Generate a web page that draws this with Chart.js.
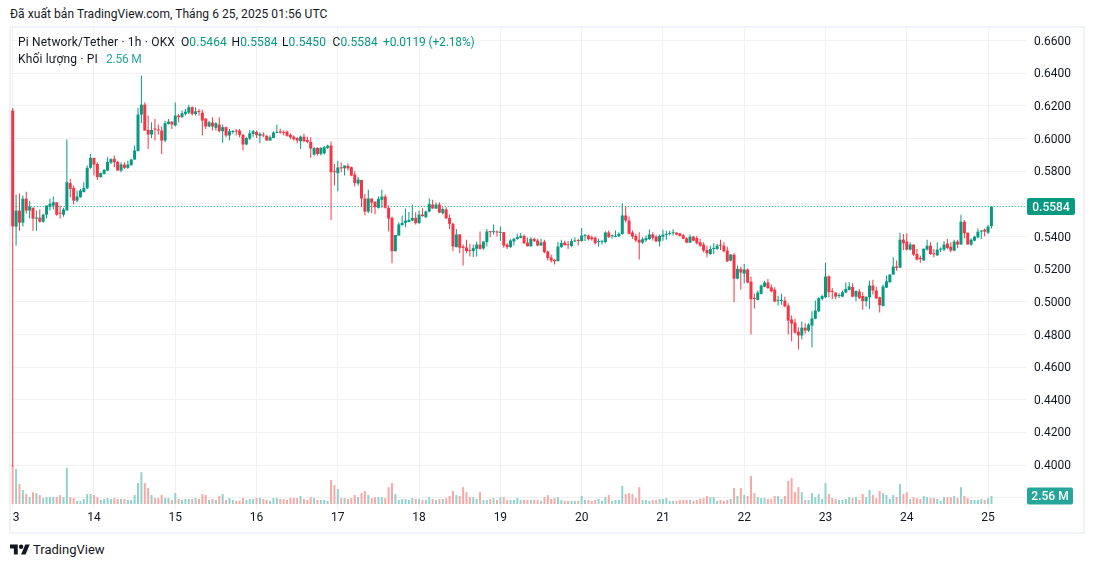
<!DOCTYPE html>
<html lang="vi"><head><meta charset="utf-8">
<script src="https://cdn.jsdelivr.net/npm/chart.js@4/dist/chart.umd.min.js"></script>
<style>
html,body{margin:0;padding:0;background:#fff;width:1094px;height:567px;overflow:hidden;font-family:Roboto,Arial,sans-serif;color:#131722}
#frame{position:absolute;left:9px;top:26px;width:1072px;height:504px;border:2px solid #f0f3fa}
#wrap{position:absolute;left:11px;top:27px;width:1072px;height:504px}
#pub{position:absolute;left:10px;top:7px;font-size:12px;line-height:15px;white-space:nowrap;letter-spacing:.06px}
.leg{position:absolute;left:18px;font-size:12px;line-height:16px;white-space:pre;z-index:3}
.leg span{display:inline-block}
.g{color:#089981}.v{color:#26a69a;letter-spacing:-.2px}
.p{letter-spacing:.18px}
.q{width:50.5px;letter-spacing:.1px}
#logo{position:absolute;left:10px;top:543px;width:20px;height:13px}
#brand{position:absolute;left:33px;top:541px;font-size:13px;line-height:17px}
</style></head><body>
<div id="pub">Đã xuất bản TradingView.com, Tháng 6 25, 2025 01:56 UTC</div>
<div id="frame"></div>
<div id="wrap"><canvas id="c" width="1072" height="504"></canvas></div>
<div class="leg" style="top:34px"><span class="p" style="width:163px">Pi Network/Tether · 1h · OKX</span><span class="q">O<b class="g" style="font-weight:400">0.5464</b></span><span class="q">H<b class="g" style="font-weight:400">0.5584</b></span><span class="q">L<b class="g" style="font-weight:400">0.5450</b></span><span class="q">C<b class="g" style="font-weight:400">0.5584</b></span><span class="g" style="letter-spacing:-.15px">+0.0119 (+2.18%)</span></div>
<div class="leg" style="top:51px"><span class="p" style="width:88px">Khối lượng · PI</span><span class="v">2.56 M</span></div>
<svg id="logo" viewBox="0 4 36 18"><path fill="#131722" d="M14 22H7V11H0V4h14v18zM28 22h-8l7.5-18h8L28 22z"/><circle fill="#131722" cx="20" cy="8" r="4"/></svg>
<div id="brand">TradingView</div>
<script>
const dayLabels=['13','14','15','16','17','18','19','20','21','22','23','24','25'];
const yTicks=[0.38,0.40,0.42,0.44,0.46,0.48,0.50,0.52,0.54,0.56,0.58,0.60,0.62,0.64,0.66];
const lastPrice=0.5584, lastVolume=2.56;
const opens=[
.6172,.5461,.5559,.5485,.5632,.5559,.5577,.5510,.5516,.5491,
.5534,.5583,.5590,.5610,.5545,.5534,.5560,.5727,.5698,.5620,
.5641,.5672,.5696,.5821,.5882,.5845,.5764,.5784,.5804,.5853,
.5876,.5857,.5804,.5841,.5821,.5837,.5872,.5923,.6147,.6208,
.6053,.6025,.6060,.6054,.6049,.5988,.6090,.6104,.6080,.6141,
.6131,.6151,.6159,.6192,.6151,.6167,.6159,.6123,.6074,.6098,
.6066,.6086,.6045,.6070,.6019,.6040,.6049,.6049,.6023,.5964,
.6000,.6029,.6041,.6017,.6021,.6017,.5988,.6004,.6035,.6045,
.6041,.6043,.6023,.6012,.6004,.5984,.6012,.5992,.5980,.5902,
.5943,.5906,.5910,.5943,.5957,.5798,.5788,.5823,.5818,.5833,
.5825,.5780,.5725,.5747,.5633,.5553,.5633,.5614,.5576,.5625,
.5645,.5576,.5514,.5310,.5406,.5470,.5484,.5490,.5498,.5514,
.5482,.5535,.5519,.5553,.5596,.5572,.5596,.5543,.5566,.5514,
.5478,.5335,.5413,.5339,.5333,.5315,.5311,.5325,.5351,.5327,
.5366,.5433,.5427,.5431,.5423,.5427,.5351,.5335,.5370,.5384,
.5392,.5404,.5363,.5340,.5386,.5376,.5345,.5368,.5308,.5272,
.5259,.5249,.5335,.5363,.5353,.5343,.5370,.5378,.5372,.5404,
.5406,.5396,.5392,.5366,.5366,.5366,.5425,.5402,.5398,.5402,
.5415,.5529,.5498,.5425,.5404,.5380,.5363,.5378,.5384,.5413,
.5400,.5370,.5399,.5410,.5416,.5420,.5424,.5420,.5408,.5389,
.5363,.5399,.5391,.5365,.5351,.5318,.5293,.5324,.5324,.5350,
.5344,.5314,.5253,.5289,.5142,.5202,.5173,.5198,.5124,.5024,
.5012,.5049,.5093,.5118,.5089,.5075,.5006,.5006,.5008,.4977,
.4892,.4873,.4818,.4794,.4842,.4824,.4855,.4896,.4942,.5018,
.5028,.5157,.5063,.5057,.5036,.5032,.5057,.5073,.5091,.5032,
.5063,.5036,.5004,.5028,.5100,.5069,.5028,.4975,.5087,.5120,
.5167,.5216,.5210,.5381,.5369,.5320,.5351,.5293,.5269,.5253,
.5320,.5344,.5297,.5285,.5320,.5320,.5357,.5338,.5314,.5369,
.5351,.5491,.5424,.5351,.5375,.5395,.5430,.5442,.5424,.5464];
const closes=[
.5462,.5559,.5485,.5632,.5559,.5583,.5510,.5513,.5491,.5534,
.5590,.5600,.5610,.5534,.5540,.5565,.5733,.5692,.5620,.5645,
.5682,.5698,.5821,.5882,.5841,.5764,.5788,.5808,.5857,.5874,
.5855,.5804,.5841,.5821,.5841,.5872,.5927,.6147,.6208,.6049,
.6025,.6053,.6056,.6050,.5988,.6094,.6104,.6086,.6141,.6131,
.6155,.6165,.6192,.6151,.6167,.6163,.6110,.6074,.6100,.6074,
.6094,.6045,.6070,.6019,.6045,.6045,.6043,.6023,.5964,.6004,
.6033,.6045,.6021,.6029,.6019,.5988,.6008,.6037,.6041,.6037,
.6035,.6017,.6008,.5996,.5988,.6012,.5984,.5980,.5939,.5943,
.5906,.5943,.5947,.5957,.5794,.5794,.5823,.5818,.5835,.5818,
.5774,.5727,.5749,.5633,.5553,.5633,.5608,.5580,.5631,.5645,
.5576,.5510,.5310,.5410,.5474,.5484,.5498,.5502,.5514,.5482,
.5535,.5525,.5553,.5600,.5572,.5596,.5547,.5568,.5512,.5478,
.5339,.5413,.5331,.5331,.5311,.5311,.5329,.5351,.5325,.5370,
.5431,.5427,.5431,.5425,.5427,.5345,.5335,.5376,.5386,.5396,
.5404,.5359,.5340,.5386,.5372,.5345,.5363,.5304,.5268,.5253,
.5249,.5339,.5361,.5347,.5347,.5372,.5376,.5373,.5406,.5408,
.5384,.5384,.5359,.5372,.5372,.5425,.5396,.5408,.5404,.5417,
.5529,.5498,.5417,.5400,.5376,.5363,.5384,.5390,.5413,.5392,
.5370,.5404,.5412,.5414,.5420,.5426,.5412,.5404,.5387,.5363,
.5399,.5375,.5359,.5344,.5314,.5297,.5324,.5330,.5344,.5344,
.5310,.5248,.5289,.5142,.5202,.5179,.5198,.5118,.5016,.5018,
.5057,.5100,.5118,.5085,.5065,.5002,.5008,.5008,.4973,.4885,
.4867,.4812,.4794,.4842,.4824,.4861,.4898,.4947,.5022,.5036,
.5155,.5059,.5061,.5032,.5040,.5059,.5079,.5094,.5032,.5067,
.5024,.5004,.5032,.5100,.5069,.5022,.4979,.5094,.5126,.5167,
.5216,.5208,.5381,.5359,.5320,.5351,.5289,.5259,.5261,.5326,
.5344,.5293,.5291,.5320,.5324,.5351,.5330,.5314,.5369,.5351,
.5491,.5420,.5351,.5381,.5399,.5430,.5436,.5430,.5461,.5584];
const highs=[
.6188,.5657,.5663,.5651,.5675,.5620,.5577,.5559,.5565,.5540,
.5590,.5632,.5645,.5610,.5590,.5577,.5994,.5753,.5712,.5682,
.5692,.5733,.5835,.5906,.5882,.5855,.5792,.5814,.5886,.5880,
.5896,.5865,.5855,.5855,.5865,.5876,.5957,.6188,.6386,.6222,
.6141,.6100,.6120,.6086,.6074,.6110,.6120,.6104,.6221,.6151,
.6172,.6182,.6208,.6196,.6192,.6182,.6176,.6123,.6110,.6131,
.6100,.6131,.6086,.6074,.6059,.6053,.6059,.6059,.6029,.6008,
.6053,.6053,.6049,.6039,.6039,.6021,.6019,.6045,.6086,.6061,
.6049,.6049,.6033,.6019,.6008,.6019,.6029,.6012,.6008,.5947,
.5947,.5947,.5955,.5963,.5982,.5845,.5865,.5853,.5835,.5849,
.5829,.5800,.5767,.5747,.5661,.5686,.5633,.5614,.5645,.5686,
.5657,.5590,.5523,.5410,.5488,.5529,.5572,.5551,.5596,.5549,
.5559,.5574,.5559,.5633,.5625,.5610,.5610,.5580,.5580,.5535,
.5486,.5447,.5413,.5351,.5380,.5355,.5351,.5368,.5431,.5370,
.5447,.5433,.5474,.5437,.5461,.5427,.5359,.5384,.5392,.5417,
.5421,.5413,.5392,.5396,.5392,.5386,.5386,.5380,.5314,.5290,
.5259,.5366,.5380,.5376,.5372,.5386,.5396,.5386,.5453,.5415,
.5413,.5406,.5400,.5386,.5380,.5433,.5437,.5413,.5437,.5427,
.5602,.5584,.5523,.5437,.5417,.5427,.5396,.5406,.5443,.5427,
.5408,.5412,.5442,.5436,.5436,.5444,.5426,.5424,.5416,.5395,
.5412,.5405,.5405,.5385,.5365,.5344,.5344,.5359,.5355,.5381,
.5365,.5338,.5293,.5297,.5222,.5216,.5232,.5204,.5155,.5049,
.5069,.5106,.5130,.5140,.5106,.5089,.5038,.5049,.5032,.4991,
.4916,.4896,.4845,.4879,.4869,.4869,.4942,.5008,.5028,.5045,
.5240,.5161,.5085,.5057,.5053,.5069,.5118,.5122,.5114,.5069,
.5077,.5059,.5032,.5130,.5136,.5093,.5032,.5106,.5161,.5171,
.5273,.5253,.5424,.5416,.5420,.5365,.5351,.5324,.5283,.5326,
.5381,.5365,.5324,.5365,.5334,.5371,.5385,.5365,.5381,.5381,
.5534,.5501,.5424,.5389,.5405,.5450,.5440,.5450,.5471,.5584];
const lows=[
.3990,.5344,.5436,.5461,.5540,.5510,.5436,.5436,.5485,.5485,
.5510,.5559,.5565,.5528,.5510,.5522,.5560,.5641,.5596,.5610,
.5637,.5672,.5692,.5815,.5774,.5747,.5760,.5780,.5800,.5845,
.5825,.5804,.5794,.5815,.5815,.5835,.5870,.5923,.6096,.6049,
.5937,.6004,.5988,.6025,.5906,.5978,.6086,.6059,.6074,.6100,
.6127,.6141,.6151,.6141,.6141,.6141,.6019,.6059,.6070,.6049,
.6049,.6039,.5974,.6008,.5988,.6029,.6019,.6008,.5927,.5959,
.5992,.6012,.6004,.5972,.6008,.5988,.5988,.6004,.6033,.6029,
.6021,.6012,.5996,.5988,.5972,.5937,.5978,.5972,.5882,.5896,
.5896,.5896,.5902,.5937,.5502,.5712,.5678,.5794,.5774,.5804,
.5770,.5706,.5712,.5580,.5531,.5543,.5543,.5537,.5572,.5576,
.5572,.5431,.5237,.5310,.5406,.5468,.5457,.5488,.5494,.5474,
.5478,.5523,.5512,.5549,.5570,.5568,.5543,.5535,.5508,.5447,
.5310,.5335,.5298,.5223,.5298,.5278,.5274,.5278,.5319,.5319,
.5339,.5396,.5413,.5400,.5372,.5331,.5323,.5331,.5345,.5382,
.5390,.5355,.5340,.5339,.5366,.5341,.5345,.5298,.5253,.5241,
.5229,.5249,.5331,.5345,.5323,.5335,.5366,.5345,.5370,.5372,
.5376,.5376,.5351,.5339,.5351,.5359,.5392,.5386,.5396,.5396,
.5413,.5488,.5413,.5386,.5366,.5259,.5355,.5366,.5380,.5376,
.5366,.5339,.5375,.5381,.5406,.5406,.5408,.5400,.5383,.5359,
.5361,.5371,.5351,.5338,.5304,.5273,.5289,.5293,.5318,.5318,
.5302,.5244,.5248,.4998,.5138,.5075,.5114,.5114,.4800,.4959,
.5008,.5045,.5089,.5079,.5057,.4998,.4977,.4983,.4967,.4800,
.4759,.4804,.4708,.4769,.4804,.4816,.4720,.4894,.4936,.5008,
.5024,.5028,.5018,.5018,.5024,.5028,.5053,.5069,.5028,.5004,
.5018,.4951,.4971,.4957,.5045,.5018,.4934,.4971,.5085,.5118,
.5167,.5191,.5208,.5318,.5314,.5314,.5283,.5253,.5240,.5253,
.5314,.5289,.5273,.5281,.5306,.5310,.5324,.5304,.5310,.5330,
.5351,.5389,.5351,.5344,.5371,.5389,.5385,.5401,.5416,.5450];
const volumes=[
12.5,11.2,6.4,4.5,3.2,2.2,3.8,3.5,2.9,1.9,
2.2,2.2,2.2,2.2,2.9,2.2,11.5,2.2,1.9,1.0,
1.0,1.6,3.2,3.2,2.9,2.2,1.3,1.6,1.9,1.6,
1.9,1.6,1.6,1.6,1.3,1.3,2.9,6.7,10.2,6.7,
5.1,2.9,1.9,1.9,2.9,1.9,1.9,1.3,3.5,1.6,
1.3,1.6,1.6,1.6,1.9,1.6,3.2,2.9,1.3,1.6,
1.3,2.6,3.2,1.3,1.9,1.3,1.0,1.0,1.9,1.3,
1.6,1.6,1.9,1.9,1.6,1.3,1.0,1.9,1.9,1.6,
1.6,1.3,1.9,1.9,1.9,2.6,1.6,1.3,2.2,1.9,
1.3,1.3,1.3,1.0,7.7,6.1,4.8,1.9,1.9,1.6,
1.9,2.9,2.2,3.5,4.2,2.9,1.9,2.2,2.2,2.2,
1.9,5.4,6.7,3.2,1.3,1.6,1.6,1.3,1.9,1.6,
1.6,1.3,1.3,2.2,1.6,1.3,1.6,1.6,1.9,2.6,
4.2,2.9,2.6,5.4,3.8,2.2,2.2,1.6,3.8,1.3,
1.3,1.6,1.9,1.3,2.2,2.2,1.3,1.3,1.3,1.9,
1.3,1.3,1.3,1.3,1.3,1.3,1.0,2.2,2.9,1.6,
1.9,2.2,1.3,1.0,1.0,1.0,1.0,1.0,2.6,1.3,
1.3,1.0,1.3,1.6,1.0,2.2,2.9,1.0,1.3,1.3,
5.8,3.2,3.5,3.2,1.9,5.4,1.3,1.3,1.0,1.3,
1.3,1.6,1.6,1.9,1.0,1.0,1.0,1.3,1.3,1.3,
1.3,1.0,1.3,1.7,1.9,2.6,2.2,2.2,1.0,1.3,
1.0,1.3,1.6,5.1,2.6,5.1,2.9,2.6,9.0,3.5,
2.2,1.9,1.9,1.6,1.6,2.6,2.6,1.6,2.6,7.4,
8.3,3.8,5.4,3.8,1.3,1.3,3.5,2.2,3.2,1.6,
6.7,3.2,1.9,1.6,1.3,1.3,1.6,2.2,1.9,2.2,
1.3,3.2,2.2,4.5,2.9,1.9,4.2,3.5,2.9,1.6,
2.9,2.2,6.4,3.2,3.8,1.6,2.2,1.9,1.6,2.6,
2.2,1.9,1.9,1.6,1.0,2.2,2.2,2.2,2.6,1.9,
5.4,2.6,1.9,1.3,1.3,1.3,1.6,1.3,1.9,2.56];

const UP='#089981',DOWN='#f23645',VUP='#92d2cc',VDOWN='#f7a9a7',GRID='#f1f1f1';
const slots=300;
const labels=Array.from({length:slots},(_,i)=>i%24===0&&dayLabels[i/24]?dayLabels[i/24]:'');
const isUp=closes.map((c,i)=>c>=opens[i]);
const font={family:'Roboto, Arial, sans-serif',size:12};

const tagPlugin={id:'tags',afterDraw(ch){
  const c=ch.ctx,y=ch.scales.y,y1=ch.scales.y1,l=ch.chartArea.right;
  const tag=(py,w,bg,txt)=>{c.save();c.fillStyle=bg;c.beginPath();c.roundRect(l,py-8.5,w,17,2);c.fill();
    c.fillStyle='#fff';c.font='500 12px Roboto, Arial, sans-serif';c.textAlign='center';c.textBaseline='middle';
    c.fillText(txt,l+w/2,py+1);c.restore();};
  tag(y.getPixelForValue(lastPrice),48,UP,lastPrice.toFixed(4));
  tag(y1.getPixelForValue(lastVolume),46,'#26a69a',lastVolume.toFixed(2)+' M');
}};

new Chart(document.getElementById('c'),{
  type:'bar',
  data:{labels,datasets:[
    {type:'line',label:'Last',data:labels.map(()=>lastPrice),borderColor:UP,borderWidth:1,borderDash:[1,2],pointRadius:0,yAxisID:'y',order:4},
    {label:'Volume',data:volumes,backgroundColor:isUp.map(u=>u?VUP:VDOWN),barThickness:2,yAxisID:'y1',order:3,grouped:false,inflateAmount:0},
    {label:'Wick',data:lows.map((l,i)=>[l,highs[i]]),backgroundColor:isUp.map(u=>u?UP:DOWN),barThickness:1,yAxisID:'y',order:2,grouped:false,inflateAmount:0},
    {label:'Body',data:opens.map((o,i)=>[o,closes[i]]),backgroundColor:isUp.map(u=>u?UP:DOWN),barThickness:3,minBarLength:1,yAxisID:'y',order:1,grouped:false,inflateAmount:0}
  ]},
  plugins:[tagPlugin],
  options:{
    responsive:false,animation:false,devicePixelRatio:1,
    layout:{padding:0},
    plugins:{legend:{display:false},title:{display:false},tooltip:{enabled:false}},
    scales:{
      x:{offset:true,
        grid:{offset:false,color:GRID,drawTicks:false},border:{display:false},
        ticks:{autoSkip:false,maxRotation:0,minRotation:0,padding:2,color:'#131722',font},
        afterBuildTicks(s){s.ticks=s.ticks.filter(t=>t.value%24===0&&dayLabels[t.value/24]);},
        afterFit(s){s.height=22;s.paddingLeft=0;s.paddingRight=0;}},
      y:{position:'right',min:0.37311,max:0.66836,
        grid:{color:GRID,drawTicks:false},border:{display:false},
        ticks:{padding:7,color:'#131722',font,callback:v=>Math.abs(v-0.38)<1e-6?'':v.toFixed(4)},
        afterBuildTicks(s){s.ticks=yTicks.map(v=>({value:v}));},
        afterFit(s){s.width=56;s.paddingTop=0;s.paddingBottom=0;
          if(!s._shifted){s._shifted=true;const base=s._computeLabelItems;
            s._computeLabelItems=function(a){return base.call(this,a).map(it=>{it.options.translation[1]+=1;return it;});};}}},
      y1:{display:false,min:-1.6,max:152.92}
    }
  }
});
</script>
</body></html>
